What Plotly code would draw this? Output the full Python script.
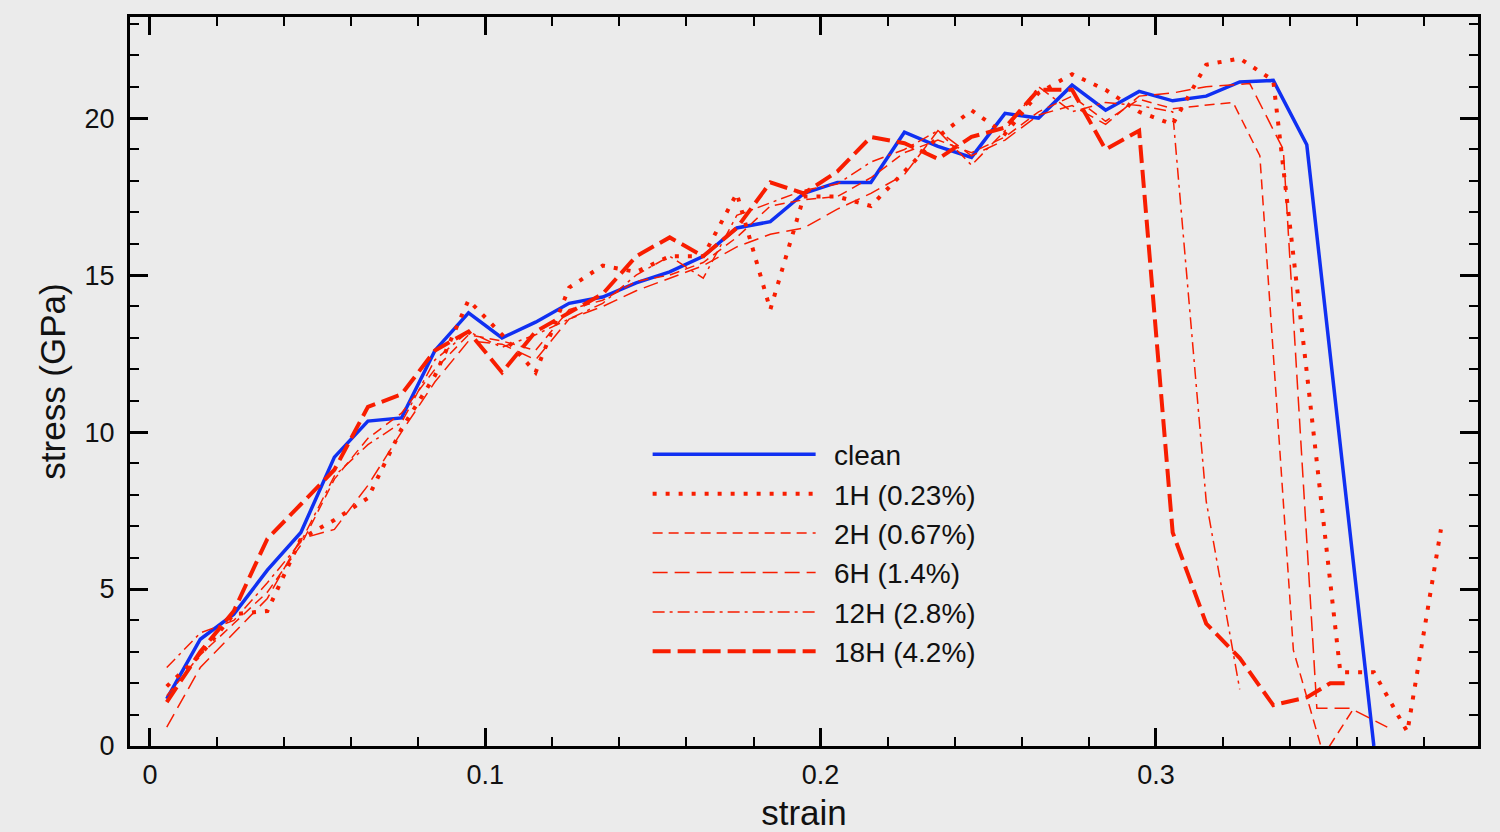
import plotly.graph_objects as go

# ---------------- data ----------------
clean_x = [0.005, 0.015, 0.025, 0.035, 0.045, 0.055, 0.065, 0.075, 0.085, 0.095,
           0.105, 0.115, 0.125, 0.135, 0.145, 0.155, 0.165, 0.175, 0.185, 0.195,
           0.205, 0.215, 0.225, 0.235, 0.245, 0.255, 0.265, 0.275, 0.285, 0.295,
           0.305, 0.315, 0.325, 0.335, 0.345, 0.355, 0.365]
clean_y = [1.5, 3.4, 4.2, 5.6, 6.8, 9.2, 10.35, 10.45, 12.6, 13.8,
           13.0, 13.5, 14.1, 14.3, 14.75, 15.1, 15.6, 16.5, 16.7, 17.6,
           17.95, 17.95, 19.55, 19.1, 18.75, 20.15, 20.0, 21.05, 20.25, 20.85,
           20.55, 20.7, 21.15, 21.2, 19.15, 9.6, 0.0]

h1_x = [0.005, 0.015, 0.025, 0.035, 0.045, 0.055, 0.065, 0.075, 0.085, 0.095,
        0.105, 0.115, 0.125, 0.135, 0.145, 0.155, 0.165, 0.175, 0.185, 0.195,
        0.205, 0.215, 0.225, 0.235, 0.245, 0.255, 0.265, 0.275, 0.285, 0.295,
        0.305, 0.315, 0.325, 0.335, 0.345, 0.355, 0.365, 0.375, 0.385]
h1_y = [1.9, 2.9, 4.2, 4.3, 6.6, 7.2, 7.9, 10.1, 11.8, 14.2,
        13.1, 11.9, 14.6, 15.3, 15.1, 15.6, 15.6, 17.6, 13.9, 17.5,
        17.5, 17.2, 18.3, 19.4, 20.25, 19.5, 20.8, 21.4, 20.9, 20.2,
        19.8, 21.7, 21.9, 21.2, 11.9, 2.35, 2.35, 0.45, 6.9]

h2_x = [0.005, 0.015, 0.025, 0.035, 0.045, 0.055, 0.065, 0.075, 0.085, 0.095,
        0.105, 0.115, 0.125, 0.135, 0.145, 0.155, 0.165, 0.175, 0.185, 0.195,
        0.205, 0.215, 0.225, 0.235, 0.245, 0.255, 0.265, 0.275, 0.285, 0.295,
        0.305, 0.315, 0.323, 0.331, 0.341, 0.350, 0.359]
h2_y = [1.6, 2.9, 3.9, 4.9, 6.4, 8.5, 9.8, 10.6, 12.0, 13.1,
        12.9, 12.6, 13.9, 14.2, 14.8, 15.0, 15.4, 16.2, 17.2, 17.4,
        17.5, 18.1, 18.9, 19.3, 18.9, 19.4, 20.2, 20.7, 19.9, 20.6,
        20.3, 20.4, 20.5, 18.8, 3.05, -0.3, 1.2]

h6_x = [0.005, 0.015, 0.025, 0.035, 0.045, 0.055, 0.065, 0.075, 0.085, 0.095,
        0.105, 0.115, 0.125, 0.135, 0.145, 0.155, 0.165, 0.175, 0.185, 0.195,
        0.205, 0.215, 0.225, 0.235, 0.245, 0.255, 0.265, 0.275, 0.285, 0.295,
        0.305, 0.315, 0.328, 0.338, 0.348, 0.358, 0.369]
h6_y = [0.6, 2.5, 3.6, 4.7, 6.6, 6.9, 8.3, 10.0, 11.6, 12.9,
        12.8, 12.3, 13.6, 14.0, 14.5, 14.9, 15.3, 15.9, 16.3, 16.5,
        17.1, 17.6, 18.2, 19.6, 18.8, 19.3, 20.1, 20.4, 19.8, 20.7,
        20.8, 21.0, 21.1, 19.0, 1.2, 1.2, 0.6]

h12_x = [0.005, 0.015, 0.025, 0.035, 0.045, 0.055, 0.065, 0.075, 0.085, 0.095,
         0.105, 0.115, 0.125, 0.135, 0.145, 0.155, 0.165, 0.175, 0.185, 0.195,
         0.205, 0.215, 0.225, 0.235, 0.245, 0.255, 0.265, 0.275, 0.285, 0.295,
         0.305, 0.315, 0.325]
h12_y = [2.5, 3.6, 4.0, 5.2, 6.5, 8.6, 9.6, 10.3, 12.3, 13.2,
         12.7, 13.1, 13.6, 14.1, 15.0, 15.6, 14.9, 16.9, 17.3, 17.7,
         17.9, 18.6, 19.0, 19.6, 18.5, 19.6, 21.0, 20.2, 20.5, 20.4,
         20.2, 7.8, 1.8]

h18_x = [0.005, 0.015, 0.025, 0.035, 0.045, 0.055, 0.065, 0.075, 0.085, 0.095,
         0.105, 0.115, 0.125, 0.135, 0.145, 0.155, 0.165, 0.175, 0.185, 0.195,
         0.205, 0.215, 0.225, 0.235, 0.245, 0.255, 0.265, 0.275, 0.285, 0.295,
         0.305, 0.315, 0.325, 0.335, 0.345, 0.352, 0.357]
h18_y = [1.4, 3.0, 4.3, 6.6, 7.7, 8.8, 10.8, 11.2, 12.6, 13.2,
         11.9, 13.2, 13.8, 14.4, 15.6, 16.2, 15.6, 16.5, 17.95, 17.6,
         18.3, 19.4, 19.2, 18.7, 19.4, 19.7, 20.9, 20.9, 19.0, 19.6,
         6.8, 3.9, 2.8, 1.3, 1.55, 2.0, 2.0]

series_names = ["clean", "1H (0.23%)", "2H (0.67%)", "6H (1.4%)", "12H (2.8%)", "18H (4.2%)"]

x_tickvals = [0, 0.1, 0.2, 0.3]
x_ticktext = ["0", "0.1", "0.2", "0.3"]
y_tickvals = [0, 5, 10, 15, 20]
y_ticktext = ["0", "5", "10", "15", "20"]

# ---------------- styles ----------------
RED = "#f81d00"
BLUE = "#1030f2"
styles = [
    dict(color=BLUE, width=3.5, dash="solid"),
    dict(color=RED, width=4, dash="4px,9px"),
    dict(color=RED, width=1.5, dash="10px,6px"),
    dict(color=RED, width=1.5, dash="15px,7px"),
    dict(color=RED, width=1.5, dash="12px,5px,3px,5px"),
    dict(color=RED, width=4, dash="18px,7px"),
]
data = [(clean_x, clean_y), (h1_x, h1_y), (h2_x, h2_y), (h6_x, h6_y), (h12_x, h12_y), (h18_x, h18_y)]

fig = go.Figure()
for i, ((xs, ys), name, st) in enumerate(zip(data, series_names, styles)):
    fig.add_trace(go.Scatter(x=xs, y=ys, mode="lines", name="\u00a0\u2009" + name, line=st,
                             legendgroup=f"g{i}"))

FONT = "Liberation Sans, Arial, Helvetica, sans-serif"
axis_common = dict(
    showline=True, linecolor="black", linewidth=3, mirror="ticks",
    ticks="inside", ticklen=18, tickwidth=3, tickcolor="black",
    showgrid=False, zeroline=False, automargin=False,
    tickfont=dict(family=FONT, size=27, color="#111"),
)
fig.update_xaxes(**axis_common, range=[-0.00596, 0.39606],
                 tickvals=x_tickvals, ticktext=x_ticktext, ticklabelstandoff=3,
                 minor=dict(ticks="inside", ticklen=9, tickwidth=2, tickcolor="black", dtick=0.02, tick0=0),
                 title=dict(text="strain", font=dict(family=FONT, size=35, color="#111"), standoff=14))
fig.update_yaxes(**axis_common, range=[0, 23.22],
                 tickvals=y_tickvals, ticktext=y_ticktext, ticklabelstandoff=7,
                 minor=dict(ticks="inside", ticklen=9, tickwidth=2, tickcolor="black", dtick=1, tick0=0),
                 title=dict(text="stress (GPa)", font=dict(family=FONT, size=35, color="#111"), standoff=9))

fig.update_layout(
    width=1500, height=832,
    margin=dict(l=130, r=22, t=17, b=86, autoexpand=False),
    paper_bgcolor="#ebebeb", plot_bgcolor="#ebebeb",
    showlegend=True,
    legend=dict(x=0.384, y=0.434, xanchor="left", yanchor="top",
                bgcolor="rgba(0,0,0,0)", itemwidth=163, tracegroupgap=0,
                font=dict(family=FONT, size=28, color="#111")),
)

fig.write_html("out.html", config={"displayModeBar": False})

# remove default page margin so the figure sits at the window origin
with open("out.html", "r", encoding="utf-8") as f:
    html = f.read()
html = html.replace("<head>", "<head><style>html,body{margin:0;padding:0;background:#ebebeb;overflow:hidden}</style>", 1)
with open("out.html", "w", encoding="utf-8") as f:
    f.write(html)
